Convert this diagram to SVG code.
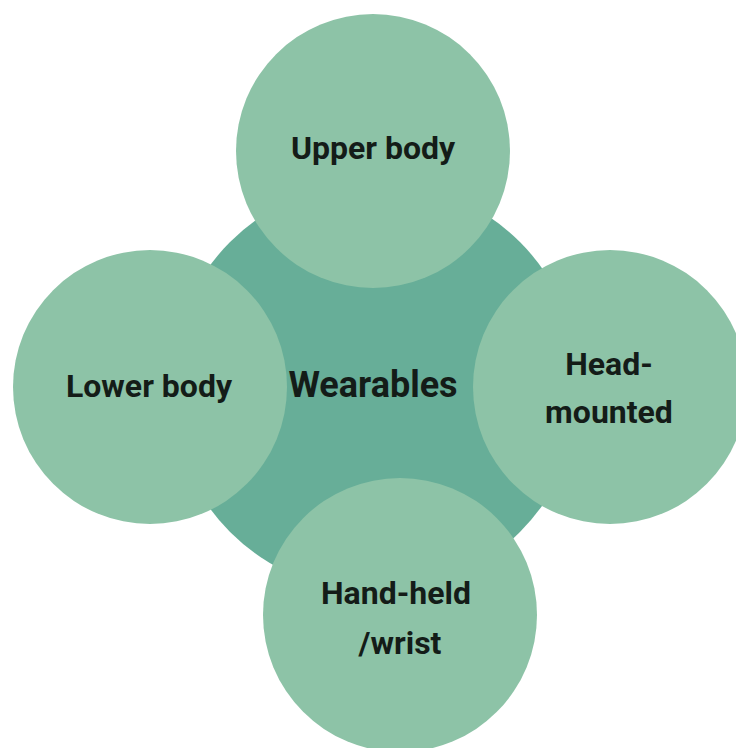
<svg xmlns="http://www.w3.org/2000/svg" width="736" height="748" viewBox="0 0 736 748">
<style>
.sat{fill:#8DC3A7}
.hub{fill:#67AE98}
text{font-family:Roboto,"Liberation Sans",sans-serif;font-weight:700;font-size:32px;fill:#141c18;text-anchor:middle}
.big{font-size:36px}
</style>
<rect width="736" height="748" fill="#ffffff"/>
<g id="connectors"></g>
<g id="hub">
<circle class="hub" cx="375" cy="387" r="205"/>
</g>
<g id="upper">
<circle class="sat" cx="373" cy="151" r="137"/>
<text x="373" y="159">Upper body</text>
</g>
<g id="lower">
<circle class="sat" cx="150" cy="387" r="137"/>
<text x="149" y="397">Lower body</text>
</g>
<g id="head">
<circle class="sat" cx="610" cy="387" r="137"/>
<text x="609" y="375">Head-</text>
<text x="609" y="423">mounted</text>
</g>
<g id="hand">
<circle class="sat" cx="400" cy="615" r="137"/>
<text x="396" y="604">Hand-held</text>
<text x="400" y="654">/wrist</text>
</g>
<g id="center-label">
<text class="big" x="373" y="397">Wearables</text>
</g>
</svg>
